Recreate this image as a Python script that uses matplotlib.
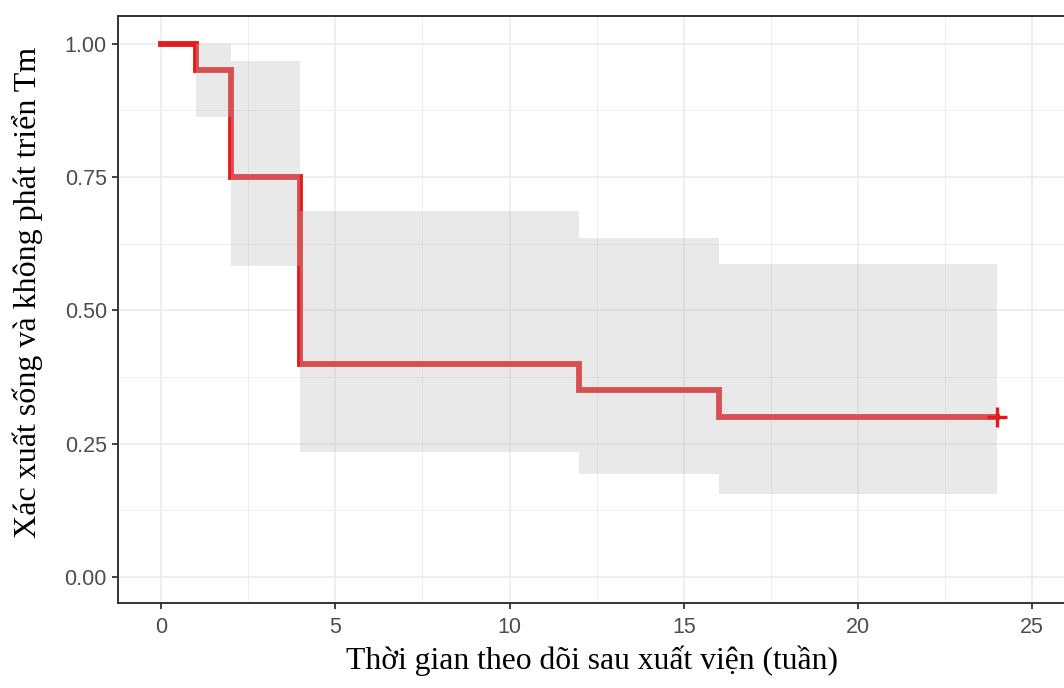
import matplotlib
matplotlib.use("Agg")
import matplotlib.pyplot as plt
import numpy as np
from matplotlib.ticker import MultipleLocator

# Kaplan-Meier estimate with 95% CI (steps change at each event time)
time = [0, 1, 2, 4, 12, 16, 24]
surv = [1.00, 0.95, 0.75, 0.40, 0.35, 0.30, 0.30]
lower = [1.00, 0.862, 0.584, 0.235, 0.194, 0.155, 0.155]
upper = [1.00, 1.00, 0.968, 0.687, 0.636, 0.587, 0.587]
censor_t = [24]
censor_s = [0.30]

xticks = [0, 5, 10, 15, 20, 25]
yticks = [0.00, 0.25, 0.50, 0.75, 1.00]
ytick_labels = ["0.00", "0.25", "0.50", "0.75", "1.00"]

fig = plt.figure(figsize=(10.64, 6.88), dpi=100)
W, H = 1064, 688
left, right, top, bottom = 118, 1102, 15.7, 603.3
ax = fig.add_axes([left / W, 1 - bottom / H, (right - left) / W, (bottom - top) / H])

red = "#E41A1C"
ax.step(time, surv, where="post", color=red, lw=4.2, zorder=3, solid_joinstyle="miter")
ax.plot(censor_t, censor_s, "+", color=red, ms=14, mew=2.4, zorder=5)
# grey band goes over the curve, as ggsurvplot draws it
ax.fill_between(time, lower, upper, step="post", color="#BEBEBE", alpha=0.33,
                lw=0, zorder=4)

ax.set_xlim(-1.234, 27)
ax.set_ylim(-0.0493, 1.0525)
ax.set_xticks(xticks)
ax.set_yticks(yticks)
ax.set_yticklabels(ytick_labels)
ax.xaxis.set_minor_locator(MultipleLocator(2.5))
ax.yaxis.set_minor_locator(MultipleLocator(0.125))

ax.grid(which="major", color="#EBEBEB", lw=1.1, zorder=0)
ax.grid(which="minor", color="#EBEBEB", lw=0.6, zorder=0)
ax.set_axisbelow(True)

for s in ["left", "bottom", "top"]:
    ax.spines[s].set_color("#333333")
    ax.spines[s].set_linewidth(1.4)
ax.spines["right"].set_visible(False)

ax.tick_params(which="major", length=4, width=1.3, color="#333333",
               labelcolor="#4D4D4D", labelsize=15.5, pad=4)
ax.tick_params(which="minor", length=0)
for lab in ax.get_xticklabels() + ax.get_yticklabels():
    lab.set_fontfamily("Liberation Sans")
ax.tick_params(axis="x", pad=6)

ax.set_xlabel("Thời gian theo dõi sau xuất viện (tuần)", fontsize=22.8,
              family="Liberation Serif", color="black")
ax.xaxis.set_label_coords((592 - left) / (right - left), (bottom - 646) / (bottom - top))
ax.set_ylabel("Xác xuất sống và không phát triển Tm", fontsize=23,
              family="Liberation Serif", color="black")
ax.yaxis.set_label_coords((43 - left) / (right - left), (bottom - 292) / (bottom - top))

fig.savefig("out.png", dpi=100)
